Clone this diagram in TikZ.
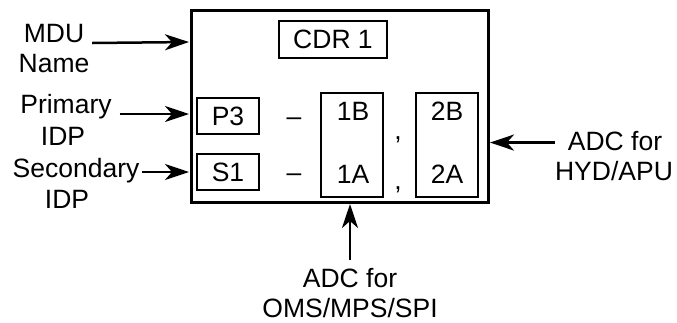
\documentclass[tikz,border=0pt]{standalone}
\usepackage{fontspec}
\setmainfont{Liberation Sans}
\usetikzlibrary{arrows.meta,calc}
\begin{document}
\begin{tikzpicture}[x=1pt,y=-1pt,inner sep=0pt,outer sep=0pt,
txt/.style={anchor=base,font=\fontsize{26.5}{30}\selectfont},
idbox/.style={draw,rectangle,line width=2.2pt,minimum width=62pt,font=\fontsize{26.5}{30}\selectfont},
feed/.style={line width=2.5pt,shorten >=2pt,-{Stealth[length=24pt,width=16pt,inset=7pt]}}]
\useasboundingbox (0,0) rectangle (677,322);
\node[draw,line width=3pt,minimum width=297pt,minimum height=192pt] (frame) at (339.5,106) {};
\node[idbox,minimum width=108pt,minimum height=37pt] (cdr) at (333,39.5) {CDR 1};
\node[idbox,minimum height=36pt] (pthree) at (228,116) {P3};
\node[idbox,minimum height=36pt] (sone) at (228,172) {S1};
\node[idbox,minimum height=104pt] (adcone) at (352,145) {};
\node[idbox,minimum height=104pt] (adctwo) at (447,145) {};
\node[txt] (oneb) at (353,120) {1B};
\node[txt] (onea) at (353,183) {1A};
\node[txt] (twob) at (447,120) {2B};
\node[txt] (twoa) at (447,183) {2A};
\node[txt] (dashp) at (294,125) {--};
\node[txt] (dashs) at (294,181) {--};
\node[txt] (commab) at (398,139) {,};
\node[txt] (commaa) at (398,189) {,};
% labels
\node[txt] (mdu) at (54,42) {MDU};
\node[txt] (mduname) at (54,72) {Name};
\node[txt] (primary) at (66,113) {Primary};
\node[txt] (primidp) at (63,145) {IDP};
\node[txt] (second) at (76,177) {Secondary};
\node[txt] (secidp) at (67,208) {IDP};
\node[txt] (adcr) at (615,150) {ADC for};
\node[txt] (hydapu) at (614,180) {HYD/APU};
\node[txt] (adcb) at (350,287) {ADC for};
\node[txt] (omsmps) at (350,317) {OMS/MPS/SPI};
% arrows
\draw[feed] ($(mdu.base east)+(8,1)$) -- (mdu.base east -| frame.west);
\draw[feed] ($(primary.east |- pthree)+(8,-2)$) -- ($(pthree -| frame.west)+(0,-2)$);
\draw[feed] ($(second.east |- sone)+(3,0)$) -- (sone -| frame.west);
\draw[feed] ($(adcr.west)+(-13,2)$) -- ($(adcr.west -| frame.east)+(0,2)$);
\draw[feed] ($(adcb.north)+(0,-8)$) -- (adcb |- frame.south);
\end{tikzpicture}
\end{document}
